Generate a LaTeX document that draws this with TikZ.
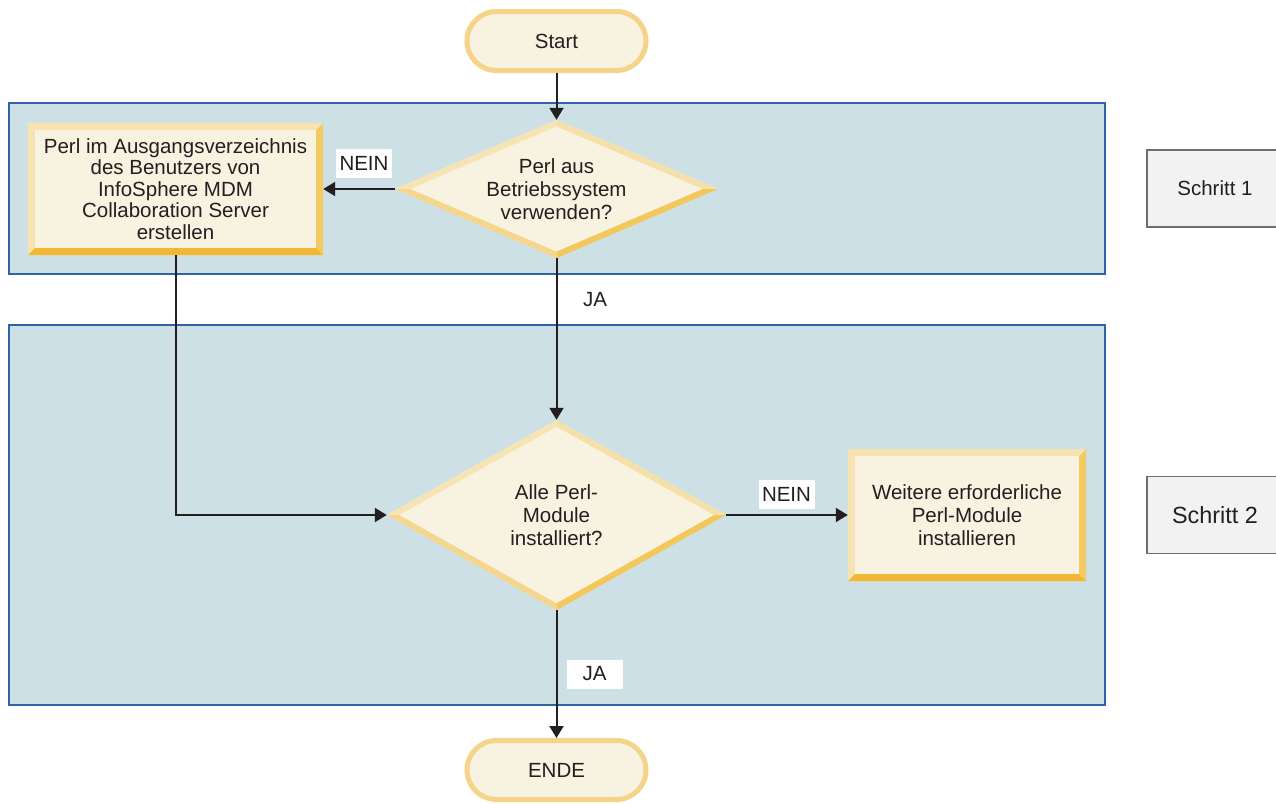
\documentclass[tikz,border=0pt]{standalone}
\usepackage{fontspec}
\setmainfont{Liberation Sans}
\usetikzlibrary{shapes.geometric,arrows.meta,calc}

\definecolor{ink}{HTML}{231F20}
\definecolor{band}{HTML}{CDE0E6}
\definecolor{bandline}{HTML}{2E63A8}
\definecolor{cream}{HTML}{F8F2E0}
\definecolor{bvlight}{HTML}{F6E3B1}
\definecolor{bvright}{HTML}{F3CB62}
\definecolor{bvbottom}{HTML}{F3B733}
\definecolor{dmUL}{HTML}{F6E4B5}
\definecolor{dmUR}{HTML}{F5E0A9}
\definecolor{dmLL}{HTML}{F5D68E}
\definecolor{dmLR}{HTML}{F2C85C}
\definecolor{termline}{HTML}{F5D48A}
\definecolor{stepfill}{HTML}{F2F2F2}
\definecolor{stepline}{HTML}{6E6E6E}

% bevelled frame around a rectangular process node
\newcommand\bevelbox[1]{%
  \fill[bvlight] (#1.north west) -- (#1.north east) -- ([shift={(-7,7)}]#1.north east) -- ([shift={(7,7)}]#1.north west) -- cycle;
  \fill[bvlight] (#1.north west) -- (#1.south west) -- ([shift={(7,-7)}]#1.south west) -- ([shift={(7,7)}]#1.north west) -- cycle;
  \fill[bvright] (#1.north east) -- (#1.south east) -- ([shift={(-7,-7)}]#1.south east) -- ([shift={(-7,7)}]#1.north east) -- cycle;
  \fill[bvbottom] (#1.south west) -- (#1.south east) -- ([shift={(-7,-7)}]#1.south east) -- ([shift={(7,-7)}]#1.south west) -- cycle;
}
% bevelled frame around a decision node; #2 = inner scale factor
\newcommand\beveldiamond[2]{%
  \coordinate (#1-in-n) at ($(#1.center)!#2!(#1.north)$);
  \coordinate (#1-in-s) at ($(#1.center)!#2!(#1.south)$);
  \coordinate (#1-in-w) at ($(#1.center)!#2!(#1.west)$);
  \coordinate (#1-in-e) at ($(#1.center)!#2!(#1.east)$);
  \fill[dmUL] (#1.west) -- (#1.north) -- (#1-in-n) -- (#1-in-w) -- cycle;
  \fill[dmUR] (#1.north) -- (#1.east) -- (#1-in-e) -- (#1-in-n) -- cycle;
  \fill[dmLL] (#1.west) -- (#1.south) -- (#1-in-s) -- (#1-in-w) -- cycle;
  \fill[dmLR] (#1.south) -- (#1.east) -- (#1-in-e) -- (#1-in-s) -- cycle;
}

\tikzset{
  txt/.style={text=ink, font=\fontsize{20.5}{23}\selectfont, align=center},
  terminal/.style={txt, fill=cream, draw=termline, line width=5pt,
    minimum width=179, minimum height=59, rounded corners=29.5, inner sep=0},
  process/.style={txt, fill=cream, inner sep=0},
  decision/.style={txt, diamond, fill=cream, inner sep=0},
  flowlabel/.style={txt, fill=white, inner sep=0, minimum width=56, minimum height=29},
  stepbox/.style={txt, fill=stepfill, draw=stepline, line width=1.5pt, inner sep=0,
    minimum width=136, minimum height=77},
  phase/.style={fill=band, draw=bandline, line width=1.5pt},
  flow/.style={draw=ink, line width=2pt, -{Triangle[length=12pt,width=14pt]}},
}

\begin{document}
\begin{tikzpicture}[x=1pt, y=-1pt]
  \clip (0,0) rectangle (1276,803);

  % phase bands
  \draw[phase] (9,103) rectangle (1105,274);
  \draw[phase] (9,325) rectangle (1105,705);

  % step markers
  \node[stepbox] (s1) at (1215,188.5) {Schritt 1};
  \node[stepbox, font=\fontsize{23.4}{26}\selectfont] (s2) at (1215,515) {Schritt 2};

  % terminals
  \node[terminal] (start) at (556.5,41) {Start};
  \node[terminal] (ende) at (556.5,770) {ENDE};

  % decisions
  \node[decision, aspect=2.34, minimum width=323, minimum height=138] (d1) at (556.5,189)
    {Perl aus\\Betriebssystem\\verwenden?};
  \beveldiamond{d1}{0.905}
  \node[decision, aspect=1.78, minimum width=339, minimum height=190] (d2) at (556.5,515)
    {Alle Perl-\\Module\\installiert?};
  \beveldiamond{d2}{0.928}

  % processes
  \node[process, font=\fontsize{20.5}{21.5}\selectfont, minimum width=295, minimum height=132] (p1) at (175.5,189)
    {Perl im Ausgangsverzeichnis\\des Benutzers von\\InfoSphere MDM\\Collaboration Server\\erstellen};
  \bevelbox{p1}
  \node[process, minimum width=238, minimum height=132] (p2) at (967,515)
    {Weitere erforderliche\\Perl-Module\\installieren};
  \bevelbox{p2}

  % connectors
  \draw[flow] (start.south) -- (d1.north);
  \draw[flow] (d1.west) -- (p1.east);
  \draw[flow] (d1.south) -- (d2.north);
  \draw[flow] (p1.south) |- (d2.west);
  \draw[flow] (d2.east) -- (p2.west);
  \draw[flow] (d2.south) -- (ende.north);

  % connector labels
  \node[flowlabel] (nein1) at (364,163.5) {NEIN};
  \node[flowlabel] (ja1) at (595,300) {JA};
  \node[flowlabel] (nein2) at (786.5,494) {NEIN};
  \node[flowlabel] (ja2) at (594.5,674) {JA};
\end{tikzpicture}
\end{document}
